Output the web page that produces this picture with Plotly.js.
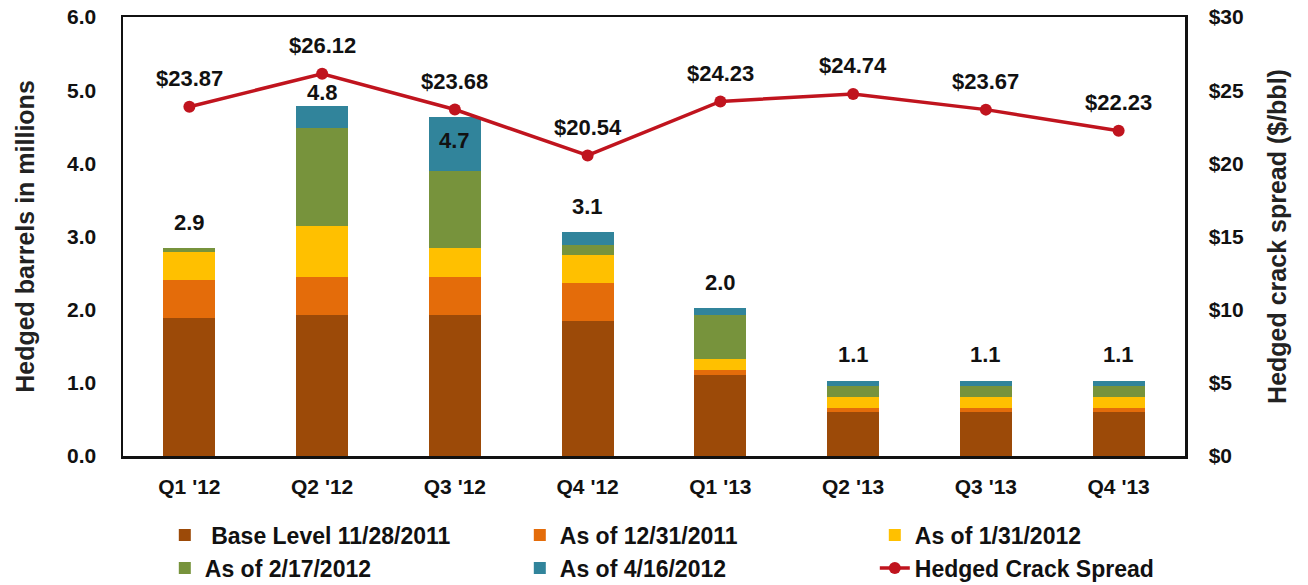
<!DOCTYPE html>
<html>
<head>
<meta charset="utf-8">
<script src="https://cdn.plot.ly/plotly-3.0.1.min.js"></script>
<style>html,body{margin:0;padding:0;background:#fff;}#chart{width:1308px;height:585px;}</style>
</head>
<body>
<div id="chart"></div>
<script>
const quarters = ["Q1 '12", "Q2 '12", "Q3 '12", "Q4 '12", "Q1 '13", "Q2 '13", "Q3 '13", "Q4 '13"];
const baseLevel = [1.88, 1.93, 1.93, 1.85, 1.11, 0.60, 0.60, 0.60];
const asOf1231 = [0.52, 0.52, 0.52, 0.52, 0.06, 0.06, 0.06, 0.06];
const asOf0131 = [0.39, 0.69, 0.39, 0.38, 0.16, 0.14, 0.14, 0.14];
const asOf0217 = [0.05, 1.34, 1.05, 0.14, 0.60, 0.15, 0.15, 0.15];
const asOf0416 = [0.00, 0.31, 0.75, 0.17, 0.09, 0.08, 0.08, 0.08];
const totalLabels = ["2.9", "4.8", "4.7", "3.1", "2.0", "1.1", "1.1", "1.1"];
const crackSpread = [23.87, 26.12, 23.68, 20.54, 24.23, 24.74, 23.67, 22.23];
const leftTicks = [0, 1, 2, 3, 4, 5, 6];
const leftTickText = ["0.0", "1.0", "2.0", "3.0", "4.0", "5.0", "6.0"];
const rightTicks = [0, 5, 10, 15, 20, 25, 30];
const rightTickText = ["$0", "$5", "$10", "$15", "$20", "$25", "$30"];

const FONT = "Liberation Sans, Arial, sans-serif";
const series = [
  {name: " Base Level 11/28/2011", y: baseLevel, color: "#9C4A08"},
  {name: "As of 12/31/2011", y: asOf1231, color: "#E46C0A"},
  {name: "As of 1/31/2012", y: asOf0131, color: "#FFC000"},
  {name: "As of 2/17/2012", y: asOf0217, color: "#77933C"},
  {name: "As of 4/16/2012", y: asOf0416, color: "#31849B"}
];
const traces = series.map(s => ({
  type: "bar", x: quarters, y: s.y, name: s.name,
  marker: {color: s.color, line: {width: 0}},
  hoverinfo: "x+y+name"
}));
traces.push({
  type: "scatter", mode: "lines+markers", x: quarters, y: crackSpread, yaxis: "y2",
  name: "Hedged Crack Spread",
  line: {color: "#C0141E", width: 3.5},
  marker: {color: "#C0141E", size: 12, symbol: "circle"}
});

const totals = quarters.map((q, i) => baseLevel[i] + asOf1231[i] + asOf0131[i] + asOf0217[i] + asOf0416[i]);
const annotations = [];
quarters.forEach((q, i) => {
  annotations.push({
    x: q, y: totals[i], xref: "x", yref: "y", text: totalLabels[i], showarrow: false,
    yshift: i === 2 ? -24 : (i === 1 ? 13 : 26), font: {family: FONT, size: 22, color: "#111", weight: "bold"}
  });
  annotations.push({
    x: q, y: crackSpread[i], xref: "x", yref: "y2", text: "$" + crackSpread[i].toFixed(2), showarrow: false,
    yshift: 28, font: {family: FONT, size: 22, color: "#111", weight: "bold"}
  });
});

const layout = {
  width: 1308, height: 585,
  margin: {l: 123, r: 123, t: 17, b: 129},
  paper_bgcolor: "#fff", plot_bgcolor: "#fff",
  barmode: "stack", bargap: 0.61,
  font: {family: FONT, size: 21, color: "#111"},
  showlegend: true,
  legend: {
    orientation: "h", xref: "container", yref: "container",
    x: 0.126, xanchor: "left", y: 0.122, yanchor: "top",
    entrywidth: 310, entrywidthmode: "pixels", traceorder: "normal",
    font: {family: FONT, size: 23, color: "#111", weight: "bold"},
    itemwidth: 30, tracegroupgap: 0, bgcolor: "rgba(0,0,0,0)"
  },
  xaxis: {
    type: "category", showline: true, linecolor: "#111", linewidth: 2.5, mirror: true,
    ticks: "", showgrid: false, zeroline: false,
    tickfont: {family: FONT, size: 21, color: "#111", weight: "bold"},
    ticklabelstandoff: 10
  },
  yaxis: {
    range: [0, 6], tickvals: leftTicks, ticktext: leftTickText,
    showline: true, linecolor: "#111", linewidth: 2.5, ticks: "", showgrid: false, zeroline: false,
    tickfont: {family: FONT, size: 21, color: "#111", weight: "bold"},
    ticklabelstandoff: 20,
    title: {text: "Hedged barrels in millions", font: {family: FONT, size: 25, color: "#222", weight: "bold"}, standoff: 26}
  },
  yaxis2: {
    range: [0, 30], tickvals: rightTicks, ticktext: rightTickText, overlaying: "y", side: "right",
    showline: true, linecolor: "#111", linewidth: 2.5, ticks: "", showgrid: false, zeroline: false,
    tickfont: {family: FONT, size: 21, color: "#111", weight: "bold"},
    ticklabelstandoff: 17,
    title: {text: "Hedged crack spread ($/bbl)", font: {family: FONT, size: 25, color: "#222", weight: "bold"}, standoff: 26}
  },
  annotations: annotations
};

Plotly.newPlot("chart", traces, layout, {displayModeBar: false, staticPlot: true});
</script>
</body>
</html>
